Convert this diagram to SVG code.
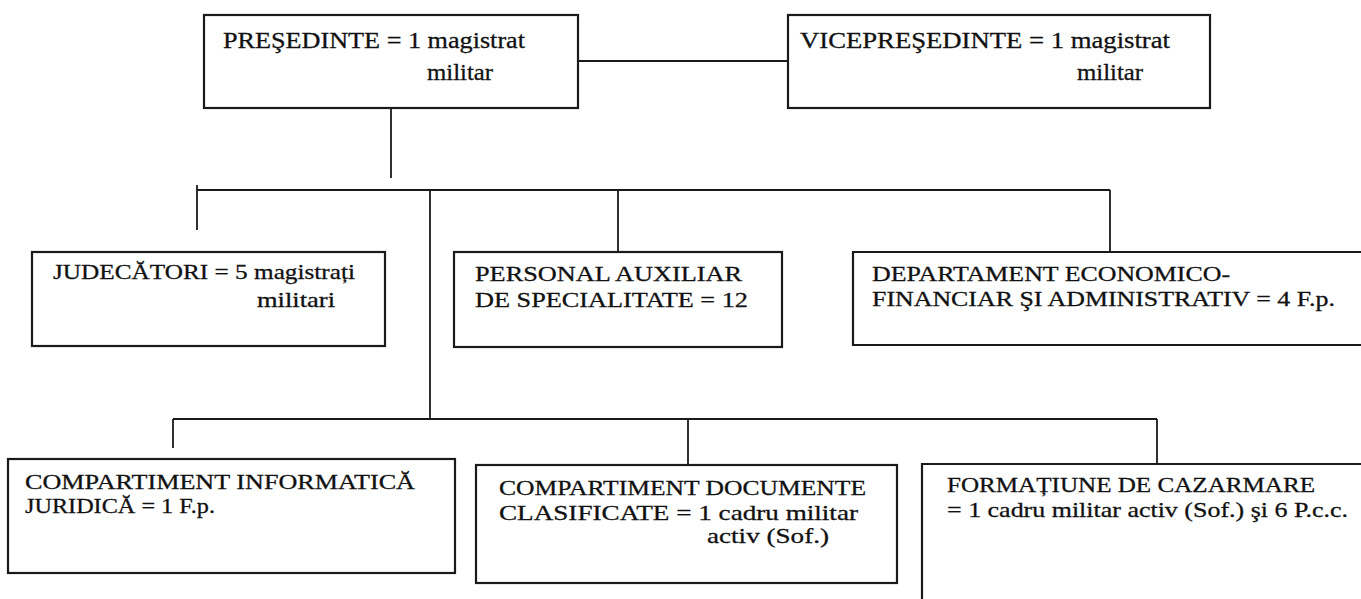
<svg xmlns="http://www.w3.org/2000/svg" width="1361" height="599" viewBox="0 0 1361 599">
<style>
.box{fill:#fff;stroke:#1a1a1a;stroke-width:2.2}
.ln{fill:none;stroke:#1a1a1a;stroke-width:1.8}
text{font-family:"Liberation Serif","Times New Roman",serif;fill:#111;stroke:#111;stroke-width:0.3;font-size:22px}
.big{font-size:23.5px}
</style>
<rect width="1361" height="599" fill="#fff"/>
<g id="connectors">
<line class="ln" x1="578" y1="61" x2="788" y2="61"/>
<line class="ln" x1="391" y1="108" x2="391" y2="178"/>
<line class="ln" x1="197" y1="190" x2="1110" y2="190"/>
<line class="ln" x1="197" y1="185" x2="197" y2="230"/>
<line class="ln" x1="430" y1="190" x2="430" y2="419"/>
<line class="ln" x1="618" y1="190" x2="618" y2="252"/>
<line class="ln" x1="1110" y1="190" x2="1110" y2="252"/>
<line class="ln" x1="173" y1="419" x2="1157" y2="419"/>
<line class="ln" x1="173" y1="419" x2="173" y2="448"/>
<line class="ln" x1="688" y1="419" x2="688" y2="465"/>
<line class="ln" x1="1157" y1="419" x2="1157" y2="464"/>
</g>
<g id="presedinte">
<rect class="box" x="204" y="15" width="374" height="93"/>
<text class="big" x="223" y="48" textLength="302" lengthAdjust="spacingAndGlyphs">PREŞEDINTE = 1 magistrat</text>
<text class="big" x="427" y="80" textLength="66" lengthAdjust="spacingAndGlyphs">militar</text>
</g>
<g id="vicepresedinte">
<rect class="box" x="788" y="15" width="422" height="93"/>
<text class="big" x="800" y="48" textLength="370" lengthAdjust="spacingAndGlyphs">VICEPREŞEDINTE = 1 magistrat</text>
<text class="big" x="1077" y="80" textLength="66" lengthAdjust="spacingAndGlyphs">militar</text>
</g>
<g id="judecatori">
<rect class="box" x="32" y="252" width="353" height="94"/>
<text x="53" y="279" textLength="302" lengthAdjust="spacingAndGlyphs">JUDECĂTORI = 5 magistrați</text>
<text x="257" y="307" textLength="78" lengthAdjust="spacingAndGlyphs">militari</text>
</g>
<g id="personal-auxiliar">
<rect class="box" x="454" y="252" width="328" height="95"/>
<text x="475" y="281" textLength="267" lengthAdjust="spacingAndGlyphs">PERSONAL AUXILIAR</text>
<text x="475" y="307" textLength="273" lengthAdjust="spacingAndGlyphs">DE SPECIALITATE = 12</text>
</g>
<g id="departament">
<path class="box" d="M1370 252 H853 V345 H1370"/>
<text x="872" y="281" textLength="358" lengthAdjust="spacingAndGlyphs">DEPARTAMENT ECONOMICO-</text>
<text x="872" y="306" textLength="463" lengthAdjust="spacingAndGlyphs">FINANCIAR ŞI ADMINISTRATIV = 4 F.p.</text>
</g>
<g id="informatica">
<rect class="box" x="8" y="459" width="447" height="114"/>
<text x="25" y="489" textLength="390" lengthAdjust="spacingAndGlyphs">COMPARTIMENT INFORMATICĂ</text>
<text x="25" y="513" textLength="190" lengthAdjust="spacingAndGlyphs">JURIDICĂ = 1 F.p.</text>
</g>
<g id="documente">
<rect class="box" x="476" y="465" width="421" height="118"/>
<text x="499" y="495" textLength="367" lengthAdjust="spacingAndGlyphs">COMPARTIMENT DOCUMENTE</text>
<text x="499" y="520" textLength="359" lengthAdjust="spacingAndGlyphs">CLASIFICATE = 1 cadru militar</text>
<text x="707" y="543" textLength="122" lengthAdjust="spacingAndGlyphs">activ (Sof.)</text>
</g>
<g id="cazarmare">
<path class="box" d="M1370 464 H922 V610"/>
<text x="947" y="492" textLength="368" lengthAdjust="spacingAndGlyphs">FORMAȚIUNE DE CAZARMARE</text>
<text x="947" y="517" textLength="401" lengthAdjust="spacingAndGlyphs">= 1 cadru militar activ (Sof.) şi 6 P.c.c.</text>
</g>
</svg>
